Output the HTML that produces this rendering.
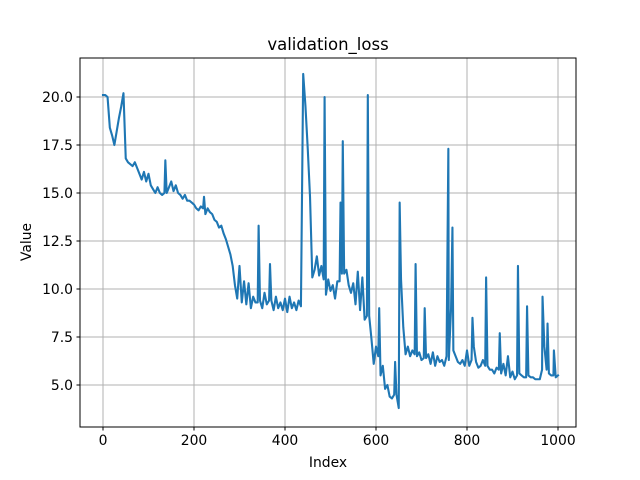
<!DOCTYPE html>
<html><head><meta charset="utf-8"><style>
body{margin:0;background:#fff}
svg{display:block;font-family:"DejaVu Sans","Liberation Sans",sans-serif}
</style></head><body>
<svg id="chart" width="640" height="480">
<rect width="640" height="480" fill="#fff"/>
<g id="grid"></g><g id="ticks"></g><g id="series"></g>
<rect x="80" y="58" width="496" height="369" fill="none" stroke="#000" stroke-width="1"/>
<text x="328" y="50" text-anchor="middle" font-size="16.5">validation_loss</text>
<text x="328" y="467" text-anchor="middle" font-size="13.9">Index</text>
<text x="31" y="242" text-anchor="middle" font-size="13.9" transform="rotate(-90 31 242)">Value</text>
</svg>
<script>
const xTicks=[0,200,400,600,800,1000];
const yTicks=[5.0,7.5,10.0,12.5,15.0,17.5,20.0];
const yTickLabels=["5.0","7.5","10.0","12.5","15.0","17.5","20.0"];
const stepIdx=5;
const lossValues=[20.1,20.1,20.0,18.4,18.0,17.5,18.2,18.9,19.5,20.2,
16.8,16.6,16.5,16.4,16.6,16.3,16.0,15.7,16.1,15.6,
16.0,15.4,15.2,15.0,15.3,15.0,14.9,15.0,15.0,15.3,
15.6,15.1,15.4,15.0,14.9,14.7,14.9,14.6,14.6,14.5,
14.4,14.2,14.1,14.3,14.2,13.9,14.2,14.0,13.9,13.6,
13.5,13.2,13.3,12.9,12.6,12.2,11.8,11.2,10.2,9.5,
11.2,9.3,10.4,9.2,10.3,9.0,9.6,9.3,9.3,9.4,
9.0,9.8,9.2,9.4,9.4,8.9,9.6,9.0,9.3,8.9,
9.5,8.8,9.6,9.0,9.3,8.9,9.4,9.1,21.2,19.5,
17.3,14.8,10.6,11.0,11.7,10.7,11.2,10.5,9.7,10.5,
9.9,10.2,9.5,10.4,10.4,10.8,10.8,11.0,10.2,9.8,
10.3,9.2,10.9,8.9,10.6,8.4,8.6,8.6,7.4,6.1,
7.0,6.5,5.5,6.0,4.8,5.0,4.4,4.3,4.5,4.5,
3.8,10.5,8.0,6.6,7.0,6.5,6.8,6.6,6.5,6.7,
6.3,6.4,6.4,6.6,6.1,6.7,6.0,6.5,6.2,6.3,
6.0,6.5,6.3,9.0,6.8,6.5,6.2,6.1,6.3,6.0,
6.8,6.0,6.3,7.0,6.2,5.9,6.0,6.3,6.0,6.0,
5.8,5.8,5.6,5.9,5.8,5.6,6.1,5.5,6.5,5.4,
5.7,5.3,5.5,5.6,5.5,5.4,5.4,5.5,5.4,5.4,
5.3,5.3,5.3,5.8,7.0,5.8,5.6,5.5,5.5,5.4,5.5];
const spikeIdx=[137,222,342,367,487,522,527,582,607,642,652,687,707,759,768,812,842,872,912,932,966,977,991];
const spikeVal=[16.7,14.8,13.3,11.3,20.0,14.5,17.7,20.1,9.0,6.2,14.5,11.3,9.0,17.3,13.2,8.5,10.6,7.7,11.2,9.1,9.6,8.2,6.8];
const X=v=>103+v*0.455;
const Y=v=>97+(20-v)*19.2;
const NS="http://www.w3.org/2000/svg";
const grid=document.getElementById('grid'),ticks=document.getElementById('ticks'),series=document.getElementById('series');
function mk(tag,attrs,parent){const e=document.createElementNS(NS,tag);for(const k in attrs)e.setAttribute(k,attrs[k]);parent.appendChild(e);return e;}
xTicks.forEach(t=>{
 const x=X(t);
 const g=mk('line',{x1:x,x2:x,y1:58,y2:427,stroke:'#b0b0b0','stroke-width':1},grid);
 
 
 const tk=mk('line',{x1:x,x2:x,y1:427,y2:430.5,stroke:'#000','stroke-width':1},ticks);
 
 
 const tx=mk('text',{x:x,y:445,'text-anchor':'middle','font-size':'13.9'},ticks);
 tx.textContent=String(t);
 
 
});
yTicks.forEach((t,i)=>{
 const y=Y(t);
 const g=mk('line',{x1:80,x2:576,y1:y,y2:y,stroke:'#b0b0b0','stroke-width':1},grid);
 
 
 const tk=mk('line',{x1:76.5,x2:80,y1:y,y2:y,stroke:'#000','stroke-width':1},ticks);
 
 
 const tx=mk('text',{x:73,y:y+5,'text-anchor':'end','font-size':'13.9'},ticks);
 tx.textContent=yTickLabels[i];
 
 
});
const merged=lossValues.map((v,i)=>[i*stepIdx,v]).concat(spikeIdx.map((ix,i)=>[ix,spikeVal[i]]));
merged.sort((a,b)=>a[0]-b[0]);
const pts=merged.map(p=>X(p[0]).toFixed(2)+','+Y(p[1]).toFixed(2)).join(' ');
const line=mk('polyline',{points:pts,fill:'none',stroke:'#1f77b4','stroke-width':2.1,'stroke-linejoin':'round','stroke-linecap':'square'},series);


</script>
</body></html>
